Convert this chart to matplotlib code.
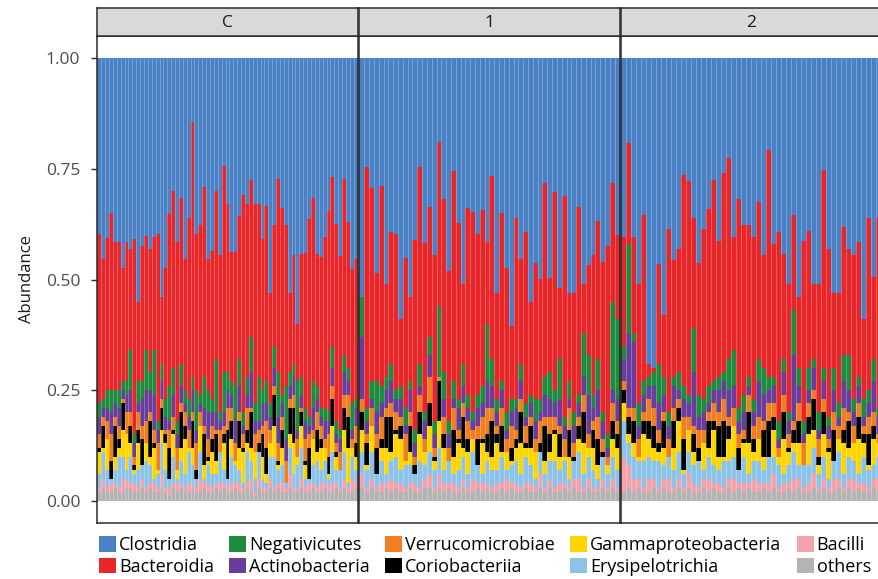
import numpy as np
import matplotlib.pyplot as plt
from matplotlib.patches import Patch

plt.rcParams['font.family'] = ['Open Sans', 'DejaVu Sans']

classes = ['Clostridia', 'Bacteroidia', 'Negativicutes', 'Actinobacteria',
           'Verrucomicrobiae', 'Coriobacteriia', 'Gammaproteobacteria',
           'Erysipelotrichia', 'Bacilli', 'others']
colors = ['#4A80C4', '#E8262A', '#1E8C3E', '#6A3D9A', '#F07F20', '#000000',
          '#FFD500', '#8CC3EA', '#F4A3AC', '#B4B4B4']
panels = ['C', '1', '2']

# top of the Bacteroidia segment (everything above is Clostridia)
top_C = [0.603, 0.546, 0.593, 0.650, 0.584, 0.585, 0.525, 0.585, 0.569, 0.591,
         0.45, 0.576, 0.599, 0.570, 0.595, 0.603, 0.46, 0.527, 0.648, 0.700,
         0.584, 0.685, 0.546, 0.640, 0.855, 0.603, 0.622, 0.710, 0.546, 0.565,
         0.700, 0.556, 0.757, 0.670, 0.561, 0.561, 0.643, 0.691, 0.670, 0.725,
         0.670, 0.670, 0.591, 0.667, 0.47, 0.623, 0.727, 0.661, 0.623, 0.47,
         0.555, 0.40, 0.558, 0.560, 0.637, 0.683, 0.558, 0.550, 0.595, 0.655,
         0.731, 0.625, 0.554, 0.727, 0.629, 0.524, 0.546]
top_1 = [0.46, 0.755, 0.706, 0.515, 0.712, 0.49, 0.608, 0.603, 0.41, 0.548,
         0.46, 0.590, 0.753, 0.582, 0.663, 0.555, 0.811, 0.682, 0.520, 0.746,
         0.628, 0.49, 0.662, 0.653, 0.603, 0.658, 0.585, 0.733, 0.47, 0.650,
         0.527, 0.395, 0.640, 0.546, 0.607, 0.45, 0.537, 0.501, 0.718, 0.503,
         0.697, 0.48, 0.688, 0.47, 0.47, 0.663, 0.49, 0.533, 0.555, 0.633,
         0.540, 0.576, 0.719, 0.60]
top_2 = [0.595, 0.808, 0.595, 0.49, 0.646, 0.31, 0.30, 0.535, 0.42, 0.614,
         0.543, 0.569, 0.736, 0.723, 0.640, 0.537, 0.615, 0.660, 0.725, 0.588,
         0.740, 0.774, 0.595, 0.682, 0.622, 0.622, 0.597, 0.674, 0.555, 0.793,
         0.580, 0.607, 0.557, 0.49, 0.646, 0.46, 0.588, 0.610, 0.49, 0.49,
         0.748, 0.569, 0.47, 0.47, 0.618, 0.570, 0.555, 0.585, 0.41, 0.640,
         0.505, 0.640]

# lower classes, percent of sample
neg_C = [3, 2, 4, 5, 3, 4, 2, 3, 9, 2, 5, 4, 9, 4, 10, 2, 4, 4, 8, 6,
         3, 5, 3, 4, 3, 9, 2, 7, 5, 3, 12, 2, 9, 4, 3, 8, 6, 3, 4, 8,
         4, 10, 3, 5, 3, 5, 10, 2, 12, 3, 3, 11, 4, 3, 2, 6, 3, 2, 3, 2,
         5, 3, 2, 4, 3, 6, 2]
act_C = [4, 2, 3, 5, 3, 4, 2, 4, 5, 3, 2, 6, 7, 5, 8, 3, 4, 3, 2, 5,
         3, 4, 2, 3, 5, 3, 2, 4, 6, 3, 4, 2, 3, 4, 3, 5, 6, 2, 3, 8,
         3, 2, 5, 4, 3, 4, 6, 3, 5, 3, 4, 2, 3, 4, 2, 5, 3, 2, 4, 3,
         4, 2, 3, 5, 3, 2, 4]
ver_C = [3, 2, 4, 6, 2, 3, 1, 5, 3, 2, 4, 3, 5, 2, 3, 6, 2, 1, 4, 3,
         5, 2, 3, 4, 2, 6, 3, 2, 4, 3, 1, 5, 2, 5, 3, 4, 2, 3, 5, 1,
         4, 3, 2, 6, 3, 2, 4, 3, 5, 2, 3, 4, 1, 5, 3, 2, 4, 3, 2, 5,
         3, 2, 4, 3, 5, 2, 4]
cor_C = [1, 5, 0, 4, 7, 2, 6, 0, 4, 1, 3, 6, 0, 8, 1, 0, 5, 2, 7, 1,
         0, 8, 3, 0, 6, 2, 0, 7, 1, 3, 6, 0, 2, 11, 4, 0, 6, 1, 3, 8,
         0, 2, 5, 6, 0, 7, 1, 4, 0, 6, 8, 0, 3, 1, 7, 0, 5, 2, 0, 4,
         6, 1, 0, 5, 7, 0, 3]
gam_C = [5, 1, 7, 0, 3, 2, 6, 8, 3, 1, 6, 0, 4, 2, 7, 1, 3, 6, 0, 5,
         2, 3, 8, 1, 4, 0, 6, 3, 1, 5, 3, 0, 6, 0, 4, 1, 5, 7, 2, 3,
         6, 0, 5, 2, 3, 7, 1, 4, 0, 3, 7, 2, 5, 3, 0, 6, 2, 5, 3, 1,
         6, 3, 0, 5, 8, 2, 3]
ery_C = [3, 6, 4, 1, 3, 7, 5, 2, 6, 2, 4, 3, 6, 4, 1, 3, 7, 4, 2, 6,
         1, 5, 3, 7, 4, 2, 6, 1, 4, 3, 2, 7, 3, 2, 6, 4, 3, 1, 7, 4,
         3, 6, 2, 1, 5, 7, 3, 4, 1, 6, 3, 5, 7, 2, 1, 4, 6, 3, 5, 2,
         7, 3, 4, 6, 1, 5, 3]
bac_C = [1, 2, 1, 2, 1, 1, 3, 2, 1, 2, 1, 2, 1, 1, 2, 1, 3, 1, 2, 1,
         2, 1, 1, 2, 1, 1, 3, 1, 2, 1, 1, 2, 1, 1, 2, 1, 2, 1, 1, 3,
         1, 2, 1, 1, 2, 1, 1, 2, 1, 3, 1, 1, 2, 1, 2, 1, 1, 2, 1, 1,
         2, 1, 1, 2, 1, 3, 1]
oth_C = [2, 3, 2, 2, 3, 2, 2, 3, 3, 2, 2, 3, 2, 3, 2, 2, 3, 2, 1, 3,
         2, 3, 2, 2, 3, 2, 2, 3, 2, 2, 3, 2, 3, 2, 2, 3, 2, 2, 3, 2,
         1, 3, 2, 2, 3, 2, 3, 2, 2, 3, 2, 2, 3, 2, 2, 3, 2, 2, 3, 2,
         2, 3, 2, 3, 2, 2, 3]

neg_1 = [9, 3, 4, 7, 4, 3, 4, 2, 3, 4, 2, 3, 5, 2, 4, 3, 16, 6, 3, 4,
         2, 5, 3, 2, 3, 4, 13, 6, 3, 2, 4, 3, 2, 4, 3, 2, 5, 3, 4, 6,
         3, 9, 2, 4, 3, 2, 10, 9, 3, 7, 2, 3, 20, 18]
act_1 = [14, 3, 2, 5, 3, 4, 5, 3, 4, 2, 5, 3, 2, 4, 5, 3, 0, 4, 3, 2,
         5, 4, 3, 2, 4, 3, 6, 5, 3, 4, 2, 3, 5, 4, 2, 3, 4, 2, 5, 4,
         3, 6, 3, 2, 4, 3, 4, 9, 3, 6, 4, 2, 3, 5]
ver_1 = [3, 2, 4, 3, 5, 2, 3, 4, 2, 6, 3, 2, 4, 3, 6, 2, 1, 4, 3, 5,
         2, 3, 4, 2, 3, 5, 6, 3, 2, 4, 3, 5, 2, 3, 4, 2, 3, 5, 2, 4,
         3, 2, 4, 5, 3, 2, 4, 3, 2, 5, 3, 2, 4, 3]
cor_1 = [4, 5, 0, 6, 2, 7, 8, 1, 3, 0, 6, 2, 5, 0, 5, 1, 9, 3, 0, 6,
         1, 7, 3, 0, 6, 1, 4, 8, 2, 6, 0, 3, 2, 7, 1, 5, 0, 2, 8, 4,
         1, 5, 0, 6, 1, 3, 7, 0, 4, 6, 1, 0, 4, 3]
gam_1 = [5, 1, 6, 0, 3, 6, 2, 5, 7, 1, 3, 0, 6, 3, 6, 2, 6, 5, 0, 4,
         6, 2, 5, 3, 0, 7, 2, 3, 6, 1, 4, 1, 3, 7, 2, 4, 6, 0, 3, 2,
         6, 3, 1, 5, 0, 3, 7, 2, 5, 3, 0, 2, 4, 5]
ery_1 = [5, 4, 6, 3, 5, 2, 4, 6, 3, 5, 4, 2, 6, 3, 5, 4, 6, 3, 5, 2,
         4, 5, 3, 6, 4, 2, 5, 4, 3, 6, 2, 4, 5, 3, 6, 4, 2, 5, 3, 4,
         6, 3, 5, 2, 4, 6, 3, 5, 4, 2, 5, 3, 5, 4]
bac_1 = [3, 1, 2, 1, 2, 1, 3, 1, 2, 1, 1, 2, 1, 2, 3, 1, 3, 2, 1, 2,
         1, 2, 1, 3, 1, 2, 1, 1, 2, 1, 3, 1, 2, 1, 1, 2, 1, 3, 1, 2,
         1, 2, 1, 1, 2, 3, 1, 2, 1, 1, 2, 1, 2, 1]
oth_1 = [3, 2, 3, 2, 2, 3, 2, 3, 2, 2, 3, 2, 2, 3, 3, 2, 3, 2, 3, 2,
         2, 3, 2, 2, 3, 2, 3, 2, 2, 3, 2, 3, 2, 2, 3, 2, 2, 3, 2, 3,
         2, 2, 3, 2, 3, 2, 2, 3, 2, 2, 3, 2, 3, 2]

neg_2 = [3, 20, 2, 5, 3, 2, 3, 9, 4, 3, 2, 4, 3, 2, 10, 5, 3, 4, 2, 3,
         2, 7, 8, 3, 4, 2, 3, 5, 6, 3, 2, 4, 3, 2, 10, 4, 3, 5, 2, 4,
         3, 2, 5, 3, 6, 8, 3, 2, 4, 3, 5, 2]
act_2 = [5, 17, 15, 3, 4, 3, 5, 6, 4, 3, 5, 2, 4, 3, 12, 3, 4, 2, 3, 5,
         4, 6, 5, 3, 4, 2, 3, 8, 6, 3, 4, 2, 5, 3, 15, 4, 2, 3, 5, 2,
         4, 3, 5, 2, 6, 5, 3, 4, 2, 3, 7, 4]
ver_2 = [2, 2, 3, 4, 2, 5, 4, 3, 2, 4, 3, 2, 5, 3, 2, 4, 3, 2, 4, 3,
         5, 2, 4, 3, 2, 4, 3, 5, 2, 4, 3, 2, 4, 3, 2, 4, 5, 3, 2, 4,
         3, 2, 4, 3, 5, 2, 4, 3, 2, 4, 3, 2]
cor_2 = [3, 4, 5, 0, 3, 4, 5, 2, 6, 0, 6, 3, 7, 0, 4, 3, 0, 6, 2, 7,
         8, 3, 0, 5, 1, 7, 3, 0, 6, 8, 3, 0, 6, 1, 3, 5, 0, 4, 7, 2,
         5, 1, 7, 0, 3, 6, 0, 5, 2, 7, 3, 0]
gam_2 = [4, 2, 3, 1, 6, 4, 3, 2, 4, 0, 5, 7, 1, 5, 3, 0, 6, 2, 8, 3,
         1, 5, 7, 0, 3, 7, 2, 5, 3, 0, 6, 2, 8, 3, 2, 5, 0, 7, 4, 2,
         5, 6, 0, 3, 7, 2, 4, 8, 3, 1, 6, 3]
ery_2 = [8, 5, 5, 4, 6, 5, 4, 6, 3, 5, 4, 6, 3, 5, 4, 6, 2, 5, 4, 3,
         6, 4, 5, 3, 6, 2, 4, 5, 3, 6, 4, 5, 2, 4, 6, 3, 5, 4, 6, 3,
         5, 2, 4, 6, 3, 5, 4, 2, 6, 4, 3, 5]
bac_2 = [8, 5, 3, 2, 1, 3, 2, 1, 2, 3, 1, 2, 1, 3, 2, 1, 2, 3, 1, 2,
         1, 2, 3, 1, 2, 1, 3, 2, 1, 2, 3, 1, 2, 1, 3, 2, 1, 2, 3, 1,
         2, 1, 3, 2, 1, 2, 3, 1, 2, 1, 2, 3]
oth_2 = [2, 3, 2, 3, 2, 2, 3, 2, 3, 2, 2, 3, 2, 3, 2, 2, 3, 2, 3, 2,
         2, 3, 2, 3, 2, 3, 2, 2, 3, 2, 3, 2, 2, 3, 2, 3, 2, 2, 3, 2,
         3, 2, 2, 3, 2, 3, 2, 3, 2, 2, 3, 2]

tops = {'C': top_C, '1': top_1, '2': top_2}
lower = {  # bottom -> up: others, Bacilli, Erysipelotrichia, Gamma, Corio, Verruco, Actino, Negativicutes
    'C': [oth_C, bac_C, ery_C, gam_C, cor_C, ver_C, act_C, neg_C],
    '1': [oth_1, bac_1, ery_1, gam_1, cor_1, ver_1, act_1, neg_1],
    '2': [oth_2, bac_2, ery_2, gam_2, cor_2, ver_2, act_2, neg_2],
}

W, H = 879, 579
fig = plt.figure(figsize=(W / 100, H / 100), dpi=100)

# panel placement in pixels: left, width
panel_px = {'C': (97, 261), '1': (359, 261), '2': (621, 261)}
ptop, pbot = 36, 523
strip_top = 8
edge = '#2B2B2B'

for i, p in enumerate(panels):
    left, width = panel_px[p]
    ax = fig.add_axes([left / W, 1 - pbot / H, width / W, (pbot - ptop) / H])
    top = np.array(tops[p])
    n = len(top)
    x = np.arange(n)
    low = [np.array(v) / 100 for v in lower[p]]
    bacteroidia = np.maximum(top - sum(low), 0)
    clostridia = 1 - top
    stack = low + [bacteroidia, clostridia]
    stack_colors = colors[::-1]
    bottom = np.zeros(n)
    for vals, c in zip(stack, stack_colors):
        ax.bar(x, vals, bottom=bottom, width=1.0, color=c, linewidth=0)
        bottom = bottom + vals
    # faint separators between samples
    ax.vlines(x[1:] - 0.5, 0, 1, colors='white', linewidth=0.6, alpha=0.3)
    ax.set_xlim(-0.6, n - 0.4)
    ax.set_ylim(-0.05, 1.05)
    ax.set_xticks([])
    for s in ax.spines.values():
        s.set_color(edge)
        s.set_linewidth(1.1)
    if i == 0:
        ax.set_yticks([0, 0.25, 0.5, 0.75, 1.0])
        ax.set_yticklabels(['0.00', '0.25', '0.50', '0.75', '1.00'])
        ax.tick_params(axis='y', length=4, width=1, color=edge,
                       labelsize=12.5, labelcolor='#4D4D4D', pad=8)
        ax.set_ylabel('Abundance', fontsize=12, color='#1A1A1A', labelpad=8)
    else:
        ax.set_yticks([])

    sax = fig.add_axes([left / W, 1 - ptop / H, width / W, (ptop - strip_top) / H])
    sax.set_facecolor('#D9D9D9')
    sax.set_xticks([])
    sax.set_yticks([])
    for s in sax.spines.values():
        s.set_color(edge)
        s.set_linewidth(1.1)
    sax.text(0.5, 0.45, p, ha='center', va='center', fontsize=12.5,
             color='#1A1A1A', transform=sax.transAxes)

handles = [Patch(facecolor=c, edgecolor='none', label=l) for l, c in zip(classes, colors)]
fig.legend(handles=handles, loc='upper left', ncol=5,
           bbox_to_anchor=(99 / W, 1 - 536 / H), frameon=False,
           fontsize=13, handlelength=0.95, handleheight=0.95,
           handletextpad=0.15, columnspacing=0.85, labelspacing=0.2,
           borderaxespad=0, borderpad=0)

fig.savefig('out.png', dpi=100)
